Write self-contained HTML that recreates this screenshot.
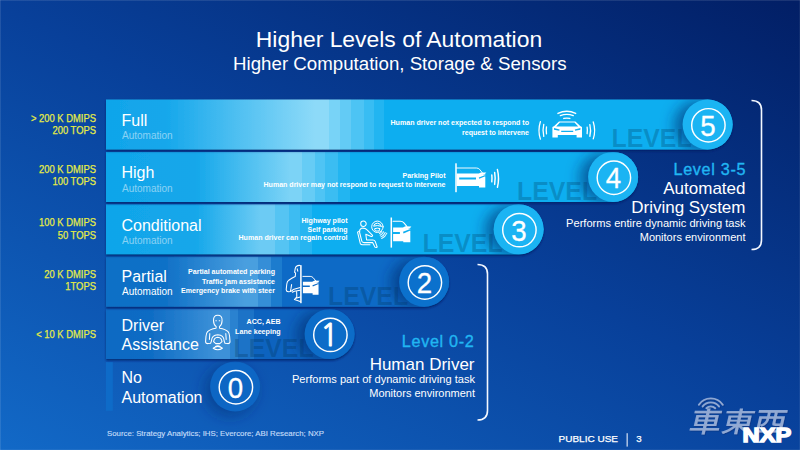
<!DOCTYPE html>
<html><head><meta charset="utf-8"><title>Higher Levels of Automation</title>
<style>
html,body{margin:0;padding:0;background:#0c47a4;}
body{width:800px;height:450px;overflow:hidden;}
svg{display:block;font-family:"Liberation Sans", "Noto Sans CJK SC", sans-serif;}
</style></head><body>
<svg width="800" height="450" viewBox="0 0 800 450">
<defs>
<linearGradient id="bg" gradientUnits="userSpaceOnUse" x1="0" y1="450" x2="342" y2="-226">
<stop offset="0" stop-color="#1269c7"/><stop offset="0.523" stop-color="#08409a"/><stop offset="1" stop-color="#021f66"/>
</linearGradient>
<filter id="sh" x="-5%" y="-20%" width="110%" height="150%"><feDropShadow dx="0" dy="1.6" stdDeviation="1.3" flood-color="#001a60" flood-opacity="0.75"/></filter>
<filter id="wsh" x="-10%" y="-10%" width="120%" height="130%"><feDropShadow dx="0.8" dy="0.9" stdDeviation="0.5" flood-color="#0a2a6a" flood-opacity="0.55"/></filter>
<filter id="blur8" x="-60%" y="-60%" width="220%" height="220%"><feGaussianBlur stdDeviation="7"/></filter>
<clipPath id="cl0"><path d="M106 361.5H235.1A25 25 0 0 1 235.1 411.5H106Z"/></clipPath><linearGradient id="g1" gradientUnits="userSpaceOnUse" x1="0" y1="0" x2="800.0" y2="0"><stop offset="0.1325" stop-color="#0d6ac3"/><stop offset="0.1875" stop-color="#0f6cc4"/><stop offset="0.2700" stop-color="#3c91d8"/><stop offset="0.2700" stop-color="#3c91d8"/><stop offset="0.2875" stop-color="#3c91d8"/><stop offset="0.2875" stop-color="#2b82d0"/><stop offset="0.2981" stop-color="#2b82d0"/><stop offset="0.2981" stop-color="#1b73c7"/><stop offset="0.3169" stop-color="#1b73c7"/><stop offset="0.3169" stop-color="#0a64bf"/></linearGradient><clipPath id="cl1"><path d="M106 309.1H329.6A25 25 0 0 1 329.6 359.1H106Z"/></clipPath><linearGradient id="g2" gradientUnits="userSpaceOnUse" x1="0" y1="0" x2="800.0" y2="0"><stop offset="0.1325" stop-color="#0e6fc6"/><stop offset="0.2075" stop-color="#1071c7"/><stop offset="0.3075" stop-color="#4a9fdf"/><stop offset="0.3075" stop-color="#4a9fdf"/><stop offset="0.3231" stop-color="#4a9fdf"/><stop offset="0.3231" stop-color="#358ed7"/><stop offset="0.3387" stop-color="#358ed7"/><stop offset="0.3387" stop-color="#1f7cce"/><stop offset="0.3525" stop-color="#1f7cce"/><stop offset="0.3525" stop-color="#0a6bc6"/></linearGradient><clipPath id="cl2"><path d="M106 256.7H424.1A25 25 0 0 1 424.1 306.7H106Z"/></clipPath><linearGradient id="g3" gradientUnits="userSpaceOnUse" x1="0" y1="0" x2="800.0" y2="0"><stop offset="0.1325" stop-color="#10a5ea"/><stop offset="0.2437" stop-color="#14a7ea"/><stop offset="0.3250" stop-color="#6ccbf4"/><stop offset="0.3250" stop-color="#6ccbf4"/><stop offset="0.3438" stop-color="#6ccbf4"/><stop offset="0.3438" stop-color="#54c4f3"/><stop offset="0.3613" stop-color="#54c4f3"/><stop offset="0.3613" stop-color="#3dbcf2"/><stop offset="0.3750" stop-color="#3dbcf2"/><stop offset="0.3750" stop-color="#26b5f1"/><stop offset="0.3906" stop-color="#26b5f1"/><stop offset="0.3906" stop-color="#0eaef0"/></linearGradient><clipPath id="cl3"><path d="M106 204.3H518.6A25 25 0 0 1 518.6 254.3H106Z"/></clipPath><linearGradient id="g4" gradientUnits="userSpaceOnUse" x1="0" y1="0" x2="800.0" y2="0"><stop offset="0.1325" stop-color="#10a5ea"/><stop offset="0.2437" stop-color="#14a7ea"/><stop offset="0.3625" stop-color="#7cd3f6"/><stop offset="0.3625" stop-color="#7cd3f6"/><stop offset="0.3781" stop-color="#7cd3f6"/><stop offset="0.3781" stop-color="#66ccf5"/><stop offset="0.3937" stop-color="#66ccf5"/><stop offset="0.3937" stop-color="#50c4f4"/><stop offset="0.4062" stop-color="#50c4f4"/><stop offset="0.4062" stop-color="#3abdf2"/><stop offset="0.4219" stop-color="#3abdf2"/><stop offset="0.4219" stop-color="#24b5f1"/><stop offset="0.4375" stop-color="#24b5f1"/><stop offset="0.4375" stop-color="#0eaef0"/></linearGradient><clipPath id="cl4"><path d="M106 151.9H613.1A25 25 0 0 1 613.1 201.9H106Z"/></clipPath><linearGradient id="g5" gradientUnits="userSpaceOnUse" x1="0" y1="0" x2="800.0" y2="0"><stop offset="0.1325" stop-color="#10a5ea"/><stop offset="0.2062" stop-color="#15a7eb"/><stop offset="0.3937" stop-color="#8ddaf8"/><stop offset="0.3937" stop-color="#8ddaf8"/><stop offset="0.4109" stop-color="#8ddaf8"/><stop offset="0.4109" stop-color="#78d3f7"/><stop offset="0.4250" stop-color="#78d3f7"/><stop offset="0.4250" stop-color="#63cbf5"/><stop offset="0.4387" stop-color="#63cbf5"/><stop offset="0.4387" stop-color="#4ec4f4"/><stop offset="0.4550" stop-color="#4ec4f4"/><stop offset="0.4550" stop-color="#38bdf3"/><stop offset="0.4675" stop-color="#38bdf3"/><stop offset="0.4675" stop-color="#23b5f1"/><stop offset="0.4800" stop-color="#23b5f1"/><stop offset="0.4800" stop-color="#0eaef0"/></linearGradient><clipPath id="cl5"><path d="M106 99.5H707.6A25 25 0 0 1 707.6 149.5H106Z"/></clipPath></defs>
<rect width="800" height="450" fill="url(#bg)"/>
<rect x="106" y="362.0" width="6.8" height="48.8" fill="#0e6bc8"/>
<circle cx="230.1" cy="390.5" r="26" fill="#002a70" fill-opacity="0.45" filter="url(#blur8)"/>
<circle cx="235.1" cy="386.5" r="25" fill="#0d66c4"/>
<circle cx="235.9" cy="387.3" r="16.7" fill="none" stroke="#fff" stroke-width="1.45"/>
<text x="235.5" y="397.9" font-size="29.4" fill="#fff" stroke="#fff" stroke-width="0.3" textLength="15.4" lengthAdjust="spacingAndGlyphs" text-anchor="middle">0</text>
<g filter="url(#sh)"><path d="M106 309.1H329.6A25 25 0 0 1 329.6 359.1H106Z" fill="url(#g1)"/></g>
<g clip-path="url(#cl1)"><text x="233.60000000000002" y="356.90000000000003" font-size="25.5" font-weight="bold" fill="#002c48" fill-opacity="0.25" textLength="80" lengthAdjust="spacingAndGlyphs">LEVEL</text><circle cx="320.6" cy="335.1" r="24.5" fill="#002a70" fill-opacity="0.62" filter="url(#blur8)"/></g>
<circle cx="329.6" cy="334.1" r="25" fill="#0c6cc8"/>
<circle cx="330.40000000000003" cy="334.90000000000003" r="16.7" fill="none" stroke="#fff" stroke-width="1.45"/>
<text x="329.3" y="345.5" font-size="30" fill="#fff" stroke="#fff" stroke-width="0.9" text-anchor="middle" font-family="NanumGothic, sans-serif">1</text>
<g filter="url(#sh)"><path d="M106 256.7H424.1A25 25 0 0 1 424.1 306.7H106Z" fill="url(#g2)"/></g>
<g clip-path="url(#cl2)"><text x="328.1" y="304.5" font-size="25.5" font-weight="bold" fill="#002c48" fill-opacity="0.25" textLength="80" lengthAdjust="spacingAndGlyphs">LEVEL</text><circle cx="415.1" cy="282.7" r="24.5" fill="#002a70" fill-opacity="0.62" filter="url(#blur8)"/></g>
<circle cx="424.1" cy="281.7" r="25" fill="#0b71cd"/>
<circle cx="424.90000000000003" cy="282.5" r="16.7" fill="none" stroke="#fff" stroke-width="1.45"/>
<text x="424.5" y="293.09999999999997" font-size="29.4" fill="#fff" stroke="#fff" stroke-width="0.3" textLength="15.4" lengthAdjust="spacingAndGlyphs" text-anchor="middle">2</text>
<g filter="url(#sh)"><path d="M106 204.3H518.6A25 25 0 0 1 518.6 254.3H106Z" fill="url(#g3)"/></g>
<g clip-path="url(#cl3)"><text x="422.6" y="252.10000000000002" font-size="25.5" font-weight="bold" fill="#002c48" fill-opacity="0.25" textLength="80" lengthAdjust="spacingAndGlyphs">LEVEL</text><circle cx="509.6" cy="230.3" r="24.5" fill="#002a70" fill-opacity="0.62" filter="url(#blur8)"/></g>
<circle cx="518.6" cy="229.3" r="25" fill="#1bb4f3"/>
<circle cx="519.4" cy="230.10000000000002" r="16.7" fill="none" stroke="#fff" stroke-width="1.45"/>
<text x="519.0" y="240.70000000000002" font-size="29.4" fill="#fff" stroke="#fff" stroke-width="0.3" textLength="15.4" lengthAdjust="spacingAndGlyphs" text-anchor="middle">3</text>
<g filter="url(#sh)"><path d="M106 151.9H613.1A25 25 0 0 1 613.1 201.9H106Z" fill="url(#g4)"/></g>
<g clip-path="url(#cl4)"><text x="517.1" y="199.70000000000002" font-size="25.5" font-weight="bold" fill="#002c48" fill-opacity="0.25" textLength="80" lengthAdjust="spacingAndGlyphs">LEVEL</text><circle cx="604.1" cy="177.9" r="24.5" fill="#002a70" fill-opacity="0.62" filter="url(#blur8)"/></g>
<circle cx="613.1" cy="176.9" r="25" fill="#1bb4f3"/>
<circle cx="613.9" cy="177.70000000000002" r="16.7" fill="none" stroke="#fff" stroke-width="1.45"/>
<text x="613.5" y="188.3" font-size="29.4" fill="#fff" stroke="#fff" stroke-width="0.3" textLength="15.4" lengthAdjust="spacingAndGlyphs" text-anchor="middle">4</text>
<g filter="url(#sh)"><path d="M106 99.5H707.6A25 25 0 0 1 707.6 149.5H106Z" fill="url(#g5)"/></g>
<g clip-path="url(#cl5)"><text x="611.6" y="147.3" font-size="25.5" font-weight="bold" fill="#002c48" fill-opacity="0.25" textLength="80" lengthAdjust="spacingAndGlyphs">LEVEL</text><circle cx="698.6" cy="125.5" r="24.5" fill="#002a70" fill-opacity="0.62" filter="url(#blur8)"/></g>
<circle cx="707.6" cy="124.5" r="25" fill="#1bb4f3"/>
<circle cx="708.4" cy="125.3" r="16.7" fill="none" stroke="#fff" stroke-width="1.45"/>
<text x="708.0" y="135.9" font-size="29.4" fill="#fff" stroke="#fff" stroke-width="0.3" textLength="15.4" lengthAdjust="spacingAndGlyphs" text-anchor="middle">5</text>
<path d="M0 0.5H800M0.5 0V450" stroke="#fff" stroke-opacity="0.1" stroke-width="1" fill="none"/><path d="M799.5 0V450M0 449.5H800" stroke="#fff" stroke-opacity="0.06" stroke-width="1" fill="none"/>
<text x="399" y="46.6" font-size="22.9" fill="#fff" text-anchor="middle">Higher Levels of Automation</text>
<text x="399.8" y="70" font-size="18.7" fill="#fff" text-anchor="middle">Higher Computation, Storage &amp; Sensors</text>
<text x="96" y="121.5" font-size="10.5" fill="#e6ec45" stroke="#e6ec45" stroke-width="0.25" text-anchor="end" textLength="65.0" lengthAdjust="spacingAndGlyphs">&gt; 200 K DMIPS</text>
<text x="96" y="133.5" font-size="10.5" fill="#e6ec45" stroke="#e6ec45" stroke-width="0.25" text-anchor="end" textLength="43.5" lengthAdjust="spacingAndGlyphs">200 TOPS</text>
<text x="96" y="172.5" font-size="10.5" fill="#e6ec45" stroke="#e6ec45" stroke-width="0.25" text-anchor="end" textLength="56.9" lengthAdjust="spacingAndGlyphs">200 K DMIPS</text>
<text x="96" y="185" font-size="10.5" fill="#e6ec45" stroke="#e6ec45" stroke-width="0.25" text-anchor="end" textLength="43.5" lengthAdjust="spacingAndGlyphs">100 TOPS</text>
<text x="96" y="226" font-size="10.5" fill="#e6ec45" stroke="#e6ec45" stroke-width="0.25" text-anchor="end" textLength="56.9" lengthAdjust="spacingAndGlyphs">100 K DMIPS</text>
<text x="96" y="238.5" font-size="10.5" fill="#e6ec45" stroke="#e6ec45" stroke-width="0.25" text-anchor="end" textLength="38.3" lengthAdjust="spacingAndGlyphs">50 TOPS</text>
<text x="96" y="277.5" font-size="10.5" fill="#e6ec45" stroke="#e6ec45" stroke-width="0.25" text-anchor="end" textLength="51.7" lengthAdjust="spacingAndGlyphs">20 K DMIPS</text>
<text x="96" y="290" font-size="10.5" fill="#e6ec45" stroke="#e6ec45" stroke-width="0.25" text-anchor="end" textLength="30.7" lengthAdjust="spacingAndGlyphs">1TOPS</text>
<text x="96" y="337.5" font-size="10.5" fill="#e6ec45" stroke="#e6ec45" stroke-width="0.25" text-anchor="end" textLength="59.8" lengthAdjust="spacingAndGlyphs">&lt; 10 K DMIPS</text>
<text x="121.5" y="125.8" font-size="16" fill="#fff">Full</text>
<text x="122" y="139.3" font-size="10" fill="#fff" fill-opacity="0.5">Automation</text>
<text x="121.5" y="178.2" font-size="16" fill="#fff">High</text>
<text x="122" y="191.7" font-size="10" fill="#fff" fill-opacity="0.5">Automation</text>
<text x="121.5" y="230.6" font-size="16" fill="#fff">Conditional</text>
<text x="122" y="244.1" font-size="10" fill="#fff" fill-opacity="0.5">Automation</text>
<text x="121.5" y="281.5" font-size="16" fill="#fff">Partial</text>
<text x="122" y="294.5" font-size="10" fill="#fff" fill-opacity="1">Automation</text>
<text x="121.5" y="331.3" font-size="16" fill="#fff">Driver</text>
<text x="121.5" y="350.2" font-size="16" fill="#fff">Assistance</text>
<text x="121.5" y="383.2" font-size="16" fill="#fff">No</text>
<text x="121.5" y="403" font-size="16" fill="#fff">Automation</text>
<text x="529" y="125" font-size="6.5" font-weight="bold" fill="#fff" text-anchor="end" textLength="138.5" lengthAdjust="spacingAndGlyphs">Human driver not expected to respond to</text>
<text x="529" y="134.7" font-size="6.5" font-weight="bold" fill="#fff" text-anchor="end" textLength="67" lengthAdjust="spacingAndGlyphs">request to intervene</text>
<text x="445.5" y="177.5" font-size="6.5" font-weight="bold" fill="#fff" text-anchor="end" textLength="43" lengthAdjust="spacingAndGlyphs">Parking Pilot</text>
<text x="445.5" y="187" font-size="6.5" font-weight="bold" fill="#fff" text-anchor="end" textLength="182" lengthAdjust="spacingAndGlyphs">Human driver may not respond to request to intervene</text>
<text x="347.5" y="223" font-size="6.5" font-weight="bold" fill="#fff" text-anchor="end" textLength="46" lengthAdjust="spacingAndGlyphs">Highway pilot</text>
<text x="347.5" y="231.7" font-size="6.5" font-weight="bold" fill="#fff" text-anchor="end" textLength="40" lengthAdjust="spacingAndGlyphs">Self parking</text>
<text x="347.5" y="240.4" font-size="6.5" font-weight="bold" fill="#fff" text-anchor="end" textLength="109" lengthAdjust="spacingAndGlyphs">Human driver can regain control</text>
<text x="275" y="273.8" font-size="6.5" font-weight="bold" fill="#fff" text-anchor="end" textLength="87" lengthAdjust="spacingAndGlyphs">Partial automated parking</text>
<text x="275" y="283.8" font-size="6.5" font-weight="bold" fill="#fff" text-anchor="end" textLength="73" lengthAdjust="spacingAndGlyphs">Traffic jam assistance</text>
<text x="275" y="292.8" font-size="6.5" font-weight="bold" fill="#fff" text-anchor="end" textLength="94" lengthAdjust="spacingAndGlyphs">Emergency brake with steer</text>
<text x="280.6" y="324.4" font-size="6.5" font-weight="bold" fill="#fff" text-anchor="end" textLength="34" lengthAdjust="spacingAndGlyphs">ACC, AEB</text>
<text x="280.6" y="334.4" font-size="6.5" font-weight="bold" fill="#fff" text-anchor="end" textLength="45.5" lengthAdjust="spacingAndGlyphs">Lane keeping</text>
<text x="745.5" y="175.4" font-size="16.2" fill="#21b6f2" text-anchor="end" textLength="72" lengthAdjust="spacing" stroke="#21b6f2" stroke-width="0.35">Level 3-5</text>
<text x="745.5" y="194.2" font-size="17" fill="#fff" text-anchor="end">Automated</text>
<text x="745.5" y="213.2" font-size="17" fill="#fff" text-anchor="end">Driving System</text>
<text x="745.5" y="227.2" font-size="11.1" fill="#fff" text-anchor="end">Performs entire dynamic driving task</text>
<text x="745.5" y="241.2" font-size="11" fill="#fff" text-anchor="end">Monitors environment</text>
<text x="473.8" y="346.5" font-size="16.2" fill="#21b6f2" text-anchor="end" textLength="72" lengthAdjust="spacing" stroke="#21b6f2" stroke-width="0.35">Level 0-2</text>
<text x="474.5" y="369.8" font-size="17" fill="#fff" text-anchor="end">Human Driver</text>
<text x="475" y="382.8" font-size="11.1" fill="#fff" text-anchor="end">Performs part of dynamic driving task</text>
<text x="475" y="396.8" font-size="11" fill="#fff" text-anchor="end">Monitors environment</text>
<path d="M751.5 100.5 Q761.5 100.5 761.5 110 V240 Q761.5 249.5 751.5 249.5" fill="none" stroke="#f4f8ff" stroke-width="1.6"/>
<path d="M477.5 264.5 Q487.5 264.5 487.5 274 V410.5 Q487.5 420 477.5 420" fill="none" stroke="#f4f8ff" stroke-width="1.6"/>
<text x="107" y="436" font-size="6.3" fill="#c4dcf8" stroke="#c4dcf8" stroke-width="0.12" textLength="217" lengthAdjust="spacingAndGlyphs">Source: Strategy Analytics; IHS; Evercore; ABI Research; NXP</text>
<text x="558.5" y="442.2" font-size="9.7" fill="#fff" stroke="#fff" stroke-width="0.25" textLength="59.5" lengthAdjust="spacingAndGlyphs">PUBLIC USE</text>
<rect x="626.6" y="433.2" width="1.1" height="13.4" fill="#e8eefa"/>
<text x="636.2" y="442.2" font-size="9.7" fill="#fff" stroke="#fff" stroke-width="0.25">3</text>
<g filter="url(#wsh)"><path d="M698.86 404.75A14.4 14.4 0 0 1 722.74 404.75M702.60 406.40A10.4 10.4 0 0 1 719.00 406.40M706.35 408.20A6.4 6.4 0 0 1 715.25 408.20" fill="none" stroke="#b4c6e6" stroke-opacity="0.75" stroke-width="1.9" stroke-linecap="round"/><text transform="translate(684.6 431.6) skewX(-13)" x="3" y="0" font-family="Noto Sans CJK TC, Noto Sans CJK SC, sans-serif" font-size="28" font-weight="500" fill="#b4c6e6" fill-opacity="0.75" textLength="97" lengthAdjust="spacingAndGlyphs">車東西</text></g>
<text x="742.6" y="442.2" font-size="21" font-weight="bold" fill="#fff" stroke="#fff" stroke-width="1.5" stroke-linejoin="miter" textLength="48.6" lengthAdjust="spacingAndGlyphs">NXP</text>
<path d="M559 120.9H575.4L580.2 125.6L582 126.6V137H576.6V134.6H557.8V137H552.4V126.6L554.2 125.6ZM559.9 122.1L556.2 126H578.2L574.5 122.1ZM554 127.6L559.6 128.9L559.2 130.2L554 129.2ZM580.4 127.6L574.8 128.9L575.2 130.2L580.4 129.2ZM561.2 130.3H573.2V131.6H561.2Z" fill="#fff" fill-rule="evenodd" transform="translate(0 0.5)"/>
<path d="M557.94 113.44A20.2 20.2 0 0 1 575.66 113.44M560.36 115.65A17.2 17.2 0 0 1 573.24 115.65M563.76 118.45A13.5 13.5 0 0 1 569.84 118.45" stroke="#fff" fill="none" stroke-linecap="round" stroke-linejoin="round" stroke-width="1.35"/>
<path d="M540.38 139.11A28.2 28.2 0 0 1 540.38 121.69M593.26 121.93A27.4 27.4 0 0 1 593.26 138.87M543.77 136.46A24.2 24.2 0 0 1 543.77 124.34M589.85 124.54A23.4 23.4 0 0 1 589.85 136.26M546.49 133.87A21 21 0 0 1 546.49 126.93M587.12 127.07A20.2 20.2 0 0 1 587.12 133.73" stroke="#fff" fill="none" stroke-linecap="round" stroke-linejoin="round" stroke-width="1.3"/>
<rect x="455.25" y="163.3" width="1.5" height="28.899999999999977" fill="#fff"/><path d="M456.6 168H476.4Q478.4 168 479.6 169.4L482.2 172.6" stroke="#fff" fill="none" stroke-linecap="round" stroke-linejoin="round" stroke-width="0.95"/><path d="M478.6 173.6L481 172.4L486.3 172.6Q485.4 174.6 482.6 175Z" fill="#fff"/><path d="M456.6 173.6H479.4L482.6 174.6H485.3V187.6H479V185.9H456.6ZM459.2 177.6H476V179.4H459.2ZM478.8 177.4L485.3 174.9V176.2L479.2 178.8Z" fill="#fff" fill-rule="evenodd"/>
<path d="M491.81 175.00A30 30 0 0 1 491.81 181.80M494.65 172.39A33 33 0 0 1 494.65 184.41M497.42 169.57A36.5 36.5 0 0 1 497.42 187.23" stroke="#fff" fill="none" stroke-linecap="round" stroke-linejoin="round" stroke-width="1.45"/>
<rect x="390.55" y="217.5" width="1.5" height="30.099999999999994" fill="#fff"/><path d="M393.1 221.3H400.35Q402.59 221.3 403.93 222.87L406.84 226.45" stroke="#fff" fill="none" stroke-linecap="round" stroke-linejoin="round" stroke-width="1.06"/><path d="M402.81 227.57L405.5 226.23L411.4 226.45Q410.43 228.69 407.29 229.14Z" fill="#fff"/><path d="M393.1 227.57H403.71L407.29 228.69H410.32V242.35H403.26V241.35H393.1ZM393.1 232.05H399.9V234.07H393.1ZM403.04 231.83L410.32 229.03V230.48L403.48 233.4Z" fill="#fff" fill-rule="evenodd"/>
<path d="M366.2 223.8A2.75 2.75 0 1 1 360.7 223.8A2.75 2.75 0 1 1 366.2 223.8ZM361.6 228.2Q359.2 229 359.6 232.5L361.8 241.2Q362.2 242.6 364 242.6H372.6L375 247.2Q376 248 377.2 247L375.2 241.4Q374.6 240 373 240H366.6L365.8 234.2L371.2 236.4Q372.4 236.6 372.6 235.4L366.8 229.6Q365.2 227.8 361.6 228.2ZM358.4 231.4L357.6 232.4L360.2 243.2Q360.8 244.8 362.6 244.8H370" stroke="#fff" fill="none" stroke-linecap="round" stroke-linejoin="round" stroke-width="1.05"/>
<path d="M383.1 226.8A5.7 5.7 0 1 1 371.7 226.8A5.7 5.7 0 1 1 383.1 226.8ZM381.2 226.2A3.9 3.9 0 0 0 373.6 226.2Q377.4 224.8 381.2 226.2ZM374.8 228.6Q377.4 227.6 380 228.6L379 231H375.8Z" stroke="#fff" fill="none" stroke-linecap="round" stroke-linejoin="round" stroke-width="1"/>
<path d="M381.87 231.12A4.6 4.6 0 0 1 379.47 233.60M383.53 231.80A6.4 6.4 0 0 1 380.20 235.25M385.20 232.47A8.2 8.2 0 0 1 380.94 236.89M386.87 233.15A10 10 0 0 1 381.67 238.54" stroke="#fff" fill="none" stroke-linecap="round" stroke-linejoin="round" stroke-width="1.05" stroke-linecap="butt" stroke-opacity="0.9"/>
<rect x="300.15" y="265.2" width="1.5" height="38.0" fill="#fff"/><path d="M302.9 276.4H310.18Q312.06 276.4 313.18 277.72L315.63 280.72" stroke="#fff" fill="none" stroke-linecap="round" stroke-linejoin="round" stroke-width="0.95"/><path d="M312.24 281.66L314.5 280.54L319.5 280.72Q318.64 282.6 316.0 282.98Z" fill="#fff"/><path d="M302.9 281.66H313.0L316.0 282.6H318.54V294.73H312.62V293.23H302.9ZM302.9 285.42H309.8V287.12H302.9ZM312.43 285.24L318.54 282.89V284.11L312.81 286.55Z" fill="#fff" fill-rule="evenodd"/>
<path d="M300.2 265.4Q296 265 295.2 268.6L294.6 272.4L295.6 273L295.2 276.6Q291.6 278.2 288.8 280.2Q287 281.6 286.8 284L286.2 289.6Q286.4 291.6 288.4 291.8L290.4 291.4L291 288.4L291.6 284.6M290.4 291.4Q292.4 291.2 293.2 289.6L300.2 287.4M292.4 292.2L294.4 291.2L300.2 290.2M296.6 291.2L296.8 296.8L294.4 299.6L300.2 301.6M296 298.2L300.2 297M297.2 268.8L297.8 271.2" stroke="#fff" fill="none" stroke-linecap="round" stroke-linejoin="round" stroke-width="1.05"/>
<path d="M213.5 320.4Q213.4 315.2 217.8 315.2Q222.20000000000002 315.2 222.10000000000002 320.4Q222.0 324.6 219.4 326.6L219.60000000000002 328.2Q225.8 329.2 228.0 331.6Q229.4 333.2 229.60000000000002 336.2L230.0 341.4Q230.0 343.6 227.8 343.6L225.0 343.2L224.0 340.6M216.20000000000002 326.6Q213.60000000000002 324.6 213.5 320.4M216.20000000000002 326.6L216.0 328.2Q209.8 329.2 207.60000000000002 331.6Q206.20000000000002 333.2 206.0 336.2L205.60000000000002 341.4Q205.60000000000002 343.6 207.8 343.6L210.60000000000002 343.2L211.60000000000002 340.6M211.4 341Q211.8 335 217.8 334.8Q223.8 335 224.20000000000002 341M213.60000000000002 341.6Q214.20000000000002 337.4 217.8 337.2Q221.4 337.4 222.0 341.6M213.60000000000002 341.6L215.8 343.6H219.8L222.0 341.6M209.8 333.6L209.4 339.4M225.8 333.6L226.20000000000002 339.4M215.8 320.8h0.6M219.20000000000002 320.8h0.6M213.20000000000002 348.2Q217.8 344.6 222.4 348.2Q217.8 351.4 213.20000000000002 348.2ZM215.4 346.4Q217.8 345.4 220.20000000000002 346.4" stroke="#fff" fill="none" stroke-linecap="round" stroke-linejoin="round" stroke-width="1.05"/>
</svg>
</body></html>
